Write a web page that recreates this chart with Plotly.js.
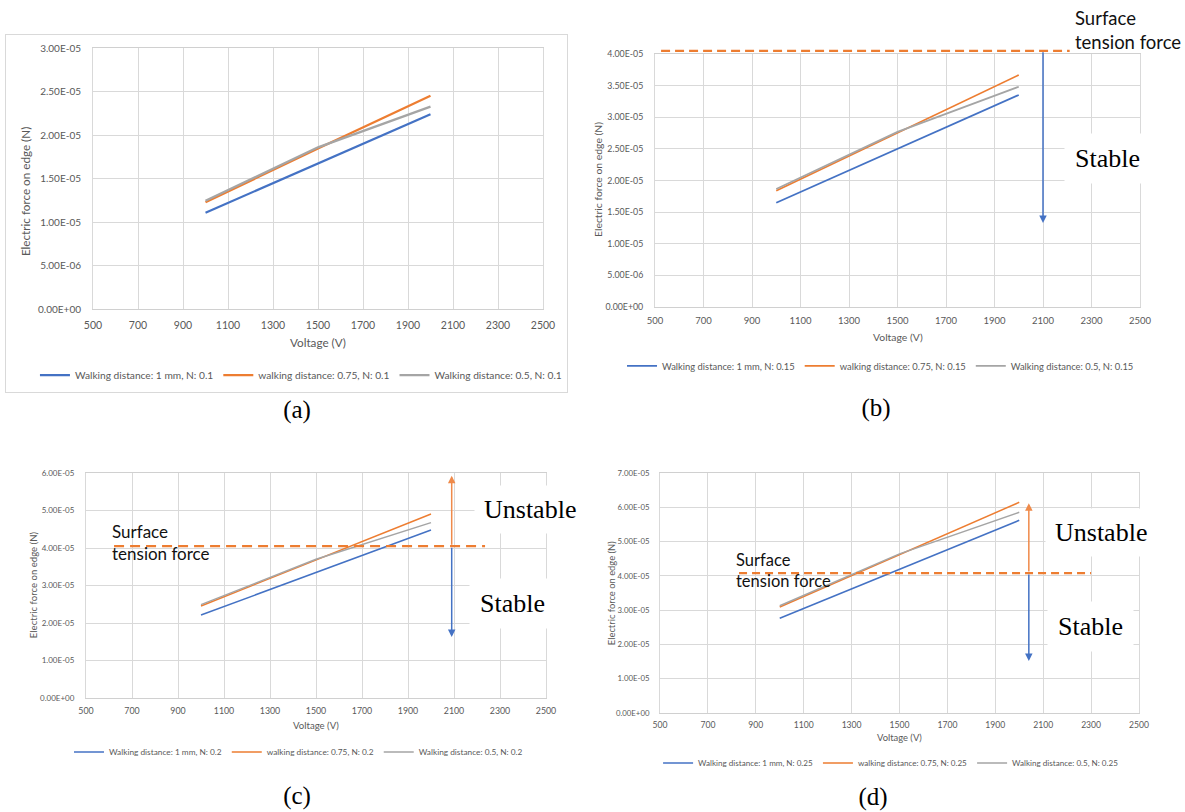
<!DOCTYPE html>
<html><head><meta charset="utf-8">
<script src="https://cdn.plot.ly/plotly-3.0.1.min.js"></script>
<style>
body{margin:0;background:#fff;width:1185px;height:812px;position:relative;overflow:hidden}
.p{position:absolute}
.lab{position:absolute;font-family:'Liberation Serif','Times New Roman',serif;font-size:25px;color:#000;transform:translate(-50%,-50%);white-space:nowrap}
</style></head><body>
<div class="p" style="left:5px;top:34px;width:563px;height:359px;border:1px solid #d9d9d9;box-sizing:border-box"></div>
<div id="chartA" class="p" style="left:5px;top:34px;width:563px;height:359px"></div>
<div id="chartB" class="p" style="left:580px;top:0px;width:605px;height:380px"></div>
<div id="chartC" class="p" style="left:0px;top:440px;width:590px;height:330px"></div>
<div id="chartD" class="p" style="left:590px;top:440px;width:595px;height:340px"></div>
<div class="lab" style="left:297px;top:410px">(a)</div>
<div class="lab" style="left:876px;top:408px">(b)</div>
<div class="lab" style="left:297px;top:796px">(c)</div>
<div class="lab" style="left:873px;top:797px">(d)</div>
<script>
// ---------- data ----------
const voltage = [1000, 1500, 2000];
const seriesLabels = ['Walking distance: 1 mm, N: ', 'walking distance: 0.75, N: ', 'Walking distance: 0.5, N: '];
const nLabels = ['0.1', '0.15', '0.2', '0.25'];

const forceA_1mm = [1.107e-5, 1.672e-5, 2.238e-5];
const forceA_075 = [1.226e-5, 1.845e-5, 2.452e-5];
const forceA_05  = [1.245e-5, 1.858e-5, 2.326e-5];

const forceB_1mm = [1.649e-5, 2.498e-5, 3.352e-5];
const forceB_075 = [1.839e-5, 2.754e-5, 3.668e-5];
const forceB_05  = [1.866e-5, 2.768e-5, 3.483e-5];

const forceC_1mm = [2.213e-5, 3.350e-5, 4.480e-5];
const forceC_075 = [2.453e-5, 3.680e-5, 4.907e-5];
const forceC_05  = [2.489e-5, 3.700e-5, 4.676e-5];

const forceD_1mm = [2.762e-5, 4.190e-5, 5.620e-5];
const forceD_075 = [3.092e-5, 4.620e-5, 6.145e-5];
const forceD_05  = [3.130e-5, 4.640e-5, 5.853e-5];

const xTickVals = [500, 700, 900, 1100, 1300, 1500, 1700, 1900, 2100, 2300, 2500];
const xTickText = ['500', '700', '900', '1100', '1300', '1500', '1700', '1900', '2100', '2300', '2500'];

const yTickValsA = [0, 5e-6, 1e-5, 1.5e-5, 2e-5, 2.5e-5, 3e-5];
const yTickTextA = ['0.00E+00', '5.00E-06', '1.00E-05', '1.50E-05', '2.00E-05', '2.50E-05', '3.00E-05'];
const yTickValsB = [0, 5e-6, 1e-5, 1.5e-5, 2e-5, 2.5e-5, 3e-5, 3.5e-5, 4e-5];
const yTickTextB = ['0.00E+00', '5.00E-06', '1.00E-05', '1.50E-05', '2.00E-05', '2.50E-05', '3.00E-05', '3.50E-05', '4.00E-05'];
const yTickValsC = [0, 1e-5, 2e-5, 3e-5, 4e-5, 5e-5, 6e-5];
const yTickTextC = ['0.00E+00', '1.00E-05', '2.00E-05', '3.00E-05', '4.00E-05', '5.00E-05', '6.00E-05'];
const yTickValsD = [0, 1e-5, 2e-5, 3e-5, 4e-5, 5e-5, 6e-5, 7e-5];
const yTickTextD = ['0.00E+00', '1.00E-05', '2.00E-05', '3.00E-05', '4.00E-05', '5.00E-05', '6.00E-05', '7.00E-05'];

// surface tension reference force and annotation extents (data units)
const surfaceTension = [null, 4.05e-5, 4.05e-5, 4.08e-5];
const tensionLineX = [null, [525, 2210], [622, 2235], [830, 2300]];
const arrowX = [null, 2100, 2090, 2040];
const unstableTop = [null, null, 5.93e-5, 6.12e-5];
const stableBottom = [null, 1.33e-5, 1.63e-5, 1.52e-5];

const xTitle = 'Voltage (V)';
const yTitle = 'Electric force on edge (N)';

// ---------- drawing ----------
const colors = ['#4472C4', '#ED7D31', '#A5A5A5'];
const SANS = 'Lato, "Open Sans", sans-serif';
const SERIF = '"Liberation Serif", "Times New Roman", serif';
const GREY = '#595959';

function draw(cfg) {
  const traces = cfg.ys.map((ys, i) => ({
    type: 'scatter', mode: 'lines', x: voltage, y: ys,
    name: seriesLabels[i] + cfg.n,
    line: {color: colors[i], width: cfg.lw}
  }));
  const ann = [
    {xref: 'paper', yref: 'paper', x: 0.5, y: cfg.xtY, text: xTitle, showarrow: false,
     xanchor: 'center', yanchor: 'middle', font: {family: SANS, size: cfg.titleSize, color: GREY}},
    {xref: 'paper', yref: 'paper', x: cfg.ytX, y: cfg.ytY, text: yTitle, showarrow: false, textangle: -90,
     xanchor: 'center', yanchor: 'middle', font: {family: SANS, size: cfg.titleSize, color: GREY}}
  ];
  const shapes = [];
  const k = cfg.idx;
  if (k > 0) {
    const st = surfaceTension[k];
    const inRange = st <= cfg.yMax;
    shapes.push({type: 'line', xref: 'x', yref: inRange ? 'y' : 'y domain',
      x0: tensionLineX[k][0], x1: tensionLineX[k][1],
      y0: inRange ? st : st / cfg.yMax, y1: inRange ? st : st / cfg.yMax,
      line: {color: '#ED7D31', width: 2.25, dash: cfg.dash}});
    if (unstableTop[k] !== null) {
      ann.push({xref: 'x', yref: 'y', axref: 'x', ayref: 'y', x: arrowX[k], y: unstableTop[k], ax: arrowX[k], ay: st,
        text: '', showarrow: true, arrowhead: 2, arrowsize: 1, arrowwidth: 1.5, arrowcolor: '#EF8A4A'});
    }
    ann.push({xref: 'x', yref: 'y', axref: 'x', ayref: 'y', x: arrowX[k], y: stableBottom[k], ax: arrowX[k], ay: st,
      text: '', showarrow: true, arrowhead: 2, arrowsize: 1, arrowwidth: 1.5, arrowcolor: '#4472C4'});
    ann.push({xref: 'paper', yref: 'paper', x: cfg.stTx[0], y: cfg.stTx[1], text: 'Surface<br>tension force', showarrow: false,
      xanchor: 'left', yanchor: 'middle', align: 'left', font: {family: SANS, size: cfg.stSize, color: '#111'}});
    if (cfg.unTx) {
      ann.push({xref: 'paper', yref: 'paper', x: cfg.unTx[0], y: cfg.unTx[1], text: 'Unstable', showarrow: false,
        xanchor: 'center', yanchor: 'middle', bgcolor: '#ffffff', borderpad: 9, font: {family: SERIF, size: 26, color: '#000'}});
    }
    ann.push({xref: 'paper', yref: 'paper', x: cfg.sTx[0], y: cfg.sTx[1], text: 'Stable', showarrow: false,
      xanchor: 'center', yanchor: 'middle', bgcolor: '#ffffff', borderpad: 10, font: {family: SERIF, size: 26, color: '#000'}});
  }
  const layout = {
    width: cfg.w, height: cfg.h,
    margin: Object.assign({autoexpand: false}, cfg.m),
    paper_bgcolor: 'rgba(0,0,0,0)', plot_bgcolor: '#ffffff',
    font: {family: SANS, color: GREY},
    showlegend: true,
    legend: {orientation: 'h', xref: 'paper', yref: 'paper', x: cfg.lg[0], y: cfg.lg[1],
      xanchor: 'left', yanchor: 'middle', font: {family: SANS, size: cfg.legSize, color: GREY},
      itemwidth: 30, bgcolor: 'rgba(0,0,0,0)', traceorder: 'normal'},
    xaxis: {range: [500, 2500], tickvals: xTickVals, ticktext: xTickText, showgrid: true, gridcolor: '#d9d9d9', gridwidth: 1,
      zeroline: false, showline: true, linecolor: '#d0d0d0', linewidth: 1, mirror: true, ticks: '',
      ticklabelstandoff: cfg.xStand, tickfont: {family: SANS, size: cfg.xTickSize, color: GREY}, fixedrange: true},
    yaxis: {range: [0, cfg.yMax], tickvals: cfg.yTicks, ticktext: cfg.yText, showgrid: true, gridcolor: '#d9d9d9', gridwidth: 1,
      zeroline: false, showline: true, linecolor: '#d9d9d9', linewidth: 1, mirror: true, ticks: '',
      ticklabelstandoff: cfg.yStand, tickfont: {family: SANS, size: cfg.yTickSize, color: GREY}, fixedrange: true},
    shapes: shapes,
    annotations: ann
  };
  Plotly.newPlot(cfg.id, traces, layout, {staticPlot: true, displayModeBar: false});
}

draw({id: 'chartA', idx: 0, n: nLabels[0], ys: [forceA_1mm, forceA_075, forceA_05], yTicks: yTickValsA, yText: yTickTextA, yMax: 3e-5,
  w: 563, h: 359, m: {l: 88, r: 25, t: 14, b: 84}, lw: 2.25, xTickSize: 10.5, yTickSize: 10, titleSize: 11.7, legSize: 10.2,
  xStand: 6, yStand: 9, xtY: -0.126, ytX: -0.151, ytY: 0.448, lg: [-0.129, -0.253]});

draw({id: 'chartB', idx: 1, n: nLabels[1], ys: [forceB_1mm, forceB_075, forceB_05], yTicks: yTickValsB, yText: yTickTextB, yMax: 4e-5,
  w: 605, h: 380, m: {l: 75, r: 45, t: 54, b: 73}, lw: 1.75, xTickSize: 9.5, yTickSize: 8.8, titleSize: 10.4, legSize: 9.4,
  xStand: 5, yStand: 9, xtY: -0.119, ytX: -0.1175, ytY: 0.502, lg: [-0.068, -0.233],
  dash: '9px,5px', stTx: [0.862, 1.095], stSize: 18.5, sTx: [0.934, 0.585]});

draw({id: 'chartC', idx: 2, n: nLabels[2], ys: [forceC_1mm, forceC_075, forceC_05], yTicks: yTickValsC, yText: yTickTextC, yMax: 6e-5,
  w: 590, h: 330, m: {l: 86, r: 44, t: 33, b: 72}, lw: 1.5, xTickSize: 8.8, yTickSize: 8, titleSize: 9.6, legSize: 8.3,
  xStand: 4, yStand: 9, xtY: -0.12, ytX: -0.115, ytY: 0.502, lg: [-0.037, -0.24],
  dash: '10px,6px', stTx: [0.052, 0.691], stSize: 17, unTx: [0.965, 0.836], sTx: [0.928, 0.418]});

draw({id: 'chartD', idx: 3, n: nLabels[3], ys: [forceD_1mm, forceD_075, forceD_05], yTicks: yTickValsD, yText: yTickTextD, yMax: 7e-5,
  w: 595, h: 340, m: {l: 70, r: 46, t: 33, b: 67}, lw: 1.5, xTickSize: 8.6, yTickSize: 7.8, titleSize: 9.4, legSize: 8.1,
  xStand: 4, yStand: 8, xtY: -0.104, ytX: -0.102, ytY: 0.5, lg: [-0.004, -0.208],
  dash: '8px,5px', stTx: [0.1545, 0.594], stSize: 16.5, unTx: [0.921, 0.754], sTx: [0.898, 0.3625]});
</script>
</body></html>
